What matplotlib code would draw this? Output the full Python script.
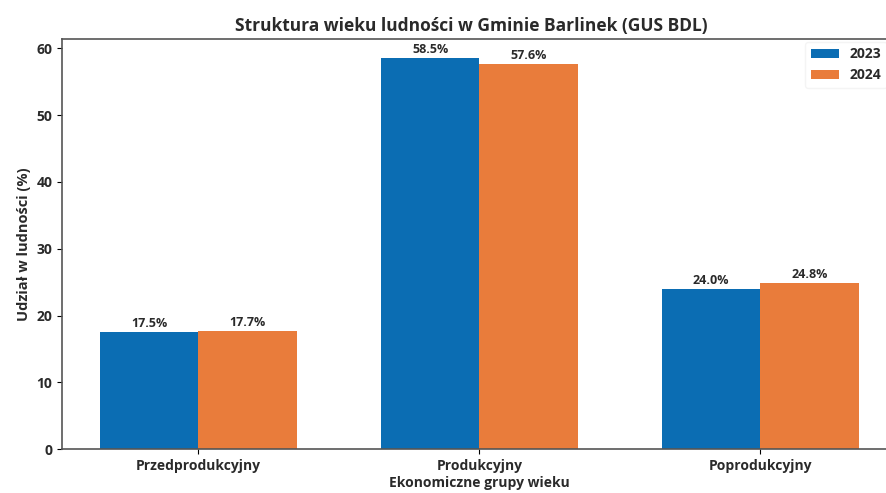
import matplotlib
matplotlib.use("Agg")
import matplotlib.pyplot as plt
import numpy as np

plt.rcParams['font.family'] = ['Open Sans', 'DejaVu Sans']

categories = ["Przedprodukcyjny", "Produkcyjny", "Poprodukcyjny"]
years = ["2023", "2024"]
values_2023 = [17.5, 58.5, 24.0]
values_2024 = [17.7, 57.6, 24.8]

colors = ["#0b6db3", "#e97c3b"]
tc = "#2a2a2a"

fig = plt.figure(figsize=(8.87, 4.93), dpi=100)
ax = fig.add_axes([0.0699, 0.089, 0.941, 0.832])

x = np.arange(len(categories))
w = 0.35
b1 = ax.bar(x - w/2, values_2023, w, color=colors[0], label=years[0])
b2 = ax.bar(x + w/2, values_2024, w, color=colors[1], label=years[1])

for bars, vals in ((b1, values_2023), (b2, values_2024)):
    for rect, v in zip(bars, vals):
        ax.text(rect.get_x() + rect.get_width()/2, rect.get_height() + 0.3,
                f"{v:.1f}%", ha="center", va="bottom", fontsize=9, fontweight="bold",
                color=tc)

ax.set_xticks(x)
ax.set_xticklabels(categories, fontsize=10, color=tc, fontweight="bold")
ax.set_ylim(0, 61.4)
ax.set_xlim(-0.485, 2.485)
ax.set_yticks([0, 10, 20, 30, 40, 50, 60])
ax.set_yticklabels([str(t) for t in [0, 10, 20, 30, 40, 50, 60]], fontsize=10,
                   color=tc, fontweight="bold")
ax.set_xlabel("Ekonomiczne grupy wieku", fontsize=10, color=tc, labelpad=2,
              fontweight="bold")
ax.set_ylabel("Udział w ludności (%)", fontsize=10.5, color=tc, fontweight="bold")
ax.set_title("Struktura wieku ludności w Gminie Barlinek (GUS BDL)", fontsize=12.5,
             color=tc, pad=6, fontweight="bold", x=0.49)
for s in ax.spines.values():
    s.set_color("#555555")
    s.set_linewidth(1.2)
ax.spines["right"].set_visible(False)
leg = ax.legend(loc="upper right", bbox_to_anchor=(1.0, 0.915),
                bbox_transform=fig.transFigure, frameon=True, edgecolor="#f2f2f2",
                borderaxespad=0.0, prop={"size": 10, "weight": "bold"})
for t in leg.get_texts():
    t.set_color(tc)

fig.savefig("out.png", dpi=100)
